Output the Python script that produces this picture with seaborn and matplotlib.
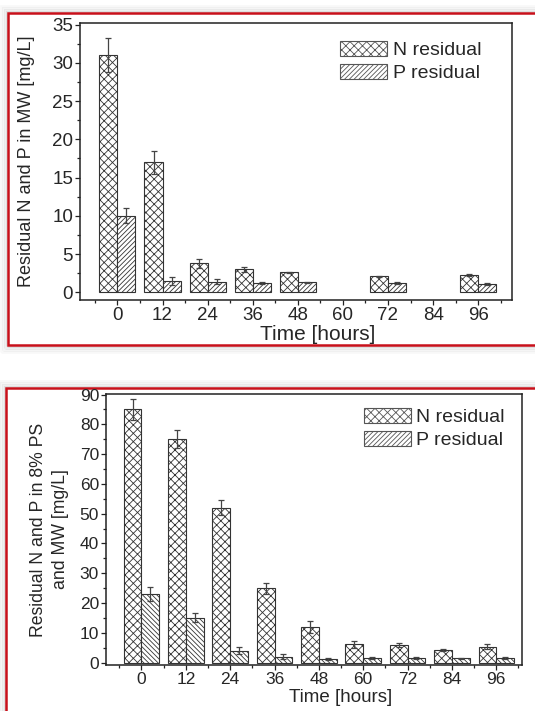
import numpy as np
import pandas as pd
import seaborn as sns
import matplotlib
matplotlib.use("Agg")
import matplotlib.pyplot as plt
from matplotlib.patches import Patch, Rectangle
from matplotlib.container import BarContainer
from matplotlib.ticker import MultipleLocator, FixedLocator

# data
times = ["0", "12", "24", "36", "48", "60", "72", "84", "96"]

# top panel: MW
mw_n = [31.0, 17.0, 3.8, 3.0, 2.6, np.nan, 2.1, np.nan, 2.3]
mw_n_err = [2.2, 1.5, 0.6, 0.3, 0.1, np.nan, 0.1, np.nan, 0.1]
mw_p = [10.0, 1.5, 1.4, 1.2, 1.3, np.nan, 1.2, np.nan, 1.1]
mw_p_err = [1.0, 0.5, 0.3, 0.1, 0.1, np.nan, 0.1, np.nan, 0.1]

# bottom panel: 8% PS and MW
ps_n = [85.0, 75.0, 52.0, 25.0, 12.0, 6.2, 6.0, 4.3, 5.3]
ps_n_err = [3.5, 3.0, 2.5, 1.8, 2.0, 1.2, 0.6, 0.3, 0.8]
ps_p = [23.0, 15.0, 4.0, 2.0, 1.2, 1.5, 1.5, 1.4, 1.5]
ps_p_err = [2.3, 1.5, 1.2, 0.8, 0.3, 0.3, 0.3, 0.2, 0.3]

series = ["N residual", "P residual"]

W, H = 535, 711
EDGE = "#333333"

sns.set_style("ticks")
plt.rcParams["font.family"] = ["Liberation Sans", "DejaVu Sans"]
plt.rcParams["hatch.linewidth"] = 0.6
plt.rcParams["hatch.color"] = EDGE


def box(x0, y0, x1, y1):
    # pixel box -> figure fraction [left, bottom, width, height]
    return [x0 / W, 1 - y1 / H, (x1 - x0) / W, (y1 - y0) / H]


def frame(fig, x0, y0, x1, y1):
    # soft grey shadow then red border, behind the axes
    for k, a in zip([7, 5, 3, 1.5], [0.05, 0.08, 0.12, 0.18]):
        l, b, w, h = box(x0 - k, y0 - k, x1 + k, y1 + k)
        fig.patches.append(Rectangle((l, b), w, h, transform=fig.transFigure,
                                     facecolor="none", edgecolor="grey",
                                     linewidth=2, alpha=a, zorder=-3))
    l, b, w, h = box(x0, y0, x1, y1)
    fig.patches.append(Rectangle((l, b), w, h, transform=fig.transFigure,
                                 facecolor="white", edgecolor="#c8101a",
                                 linewidth=1.8, zorder=-2))


def panel(ax, n_vals, n_err, p_vals, p_err, p_hatch, ylim, ymajor, yminor,
          xlim, ylabel, ylab_size, tick_size, xlab_size, leg_xy):
    df = pd.DataFrame({
        "time": times * 2,
        "value": list(n_vals) + list(p_vals),
        "series": [series[0]] * len(times) + [series[1]] * len(times),
    })
    sns.barplot(data=df, x="time", y="value", hue="series", order=times,
                hue_order=series, palette=["white", "white"], errorbar=None,
                edgecolor=EDGE, linewidth=0.8, width=0.8, legend=False, ax=ax)

    errs = [n_err, p_err]
    hatches = ["xxxx", p_hatch]
    bar_conts = [c for c in ax.containers if isinstance(c, BarContainer)]
    for ci, cont in enumerate(bar_conts):
        xs, ys, es = [], [], []
        for bar in cont:
            hgt = bar.get_height()
            if np.isnan(hgt):
                continue
            bar.set_hatch(hatches[ci])
            bar.set_edgecolor(EDGE)
            idx = int(round(bar.get_x() + bar.get_width() / 2))
            xs.append(bar.get_x() + bar.get_width() / 2)
            ys.append(hgt)
            es.append(errs[ci][idx])
        ax.errorbar(xs, ys, yerr=es, fmt="none", ecolor="#444444",
                    elinewidth=0.9, capsize=2.5, capthick=0.9, zorder=5)

    ax.set_ylim(*ylim)
    ax.set_xlim(*xlim)
    ax.yaxis.set_major_locator(MultipleLocator(ymajor))
    ax.yaxis.set_minor_locator(MultipleLocator(yminor))
    ax.xaxis.set_minor_locator(FixedLocator(np.arange(-0.5, 9, 1.0)))
    ax.tick_params(axis="both", which="major", labelsize=tick_size, length=3.5,
                   width=0.9, color="#222222", pad=1.5)
    ax.tick_params(axis="both", which="minor", length=2.5, width=0.9,
                   color="#222222")
    for sp in ax.spines.values():
        sp.set_visible(True)
        sp.set_linewidth(1.1)
        sp.set_color("#222222")

    ax.set_xlabel("Time [hours]", fontsize=xlab_size)
    ax.set_ylabel(ylabel, fontsize=ylab_size, linespacing=1.35)

    handles = [Patch(facecolor="white", edgecolor="#555555", hatch="xxxx",
                     linewidth=0.8),
               Patch(facecolor="white", edgecolor="#555555", hatch="///////",
                     linewidth=0.8)]
    ax.legend(handles, series, loc="upper left", bbox_to_anchor=leg_xy,
              frameon=False, fontsize=14, handlelength=2.4, handleheight=0.78,
              handletextpad=0.3, labelspacing=0.25, borderpad=0,
              borderaxespad=0)


fig = plt.figure(figsize=(W / 100, H / 100), dpi=100)
frame(fig, 8, 13, 545, 345)
frame(fig, 6, 388, 545, 725)

ax1 = fig.add_axes(box(80, 23, 512, 300))
panel(ax1, mw_n, mw_n_err, mw_p, mw_p_err, "///////", (-1, 35.2), 5, 2.5,
      (-0.83, 8.75), "Residual N and P in MW [mg/L]", 13, 13.5, 15,
      (0.602, 0.935))
ax1.xaxis.set_label_coords(0.55, -0.09)
ax1.yaxis.set_label_coords(-0.105, 0.5)

ax2 = fig.add_axes(box(106, 394, 522, 665))
panel(ax2, ps_n, ps_n_err, ps_p, ps_p_err, "\\\\\\\\\\\\\\", (-0.8, 90.2), 10, 5,
      (-0.8, 8.58), "Residual N and P in 8% PS\nand MW [mg/L]", 12.7, 12.5,
      13.5, (0.62, 0.947))
ax2.xaxis.set_label_coords(0.565, -0.09)
ax2.yaxis.set_label_coords(-0.089, 0.5)

fig.savefig("out.png", dpi=100)
